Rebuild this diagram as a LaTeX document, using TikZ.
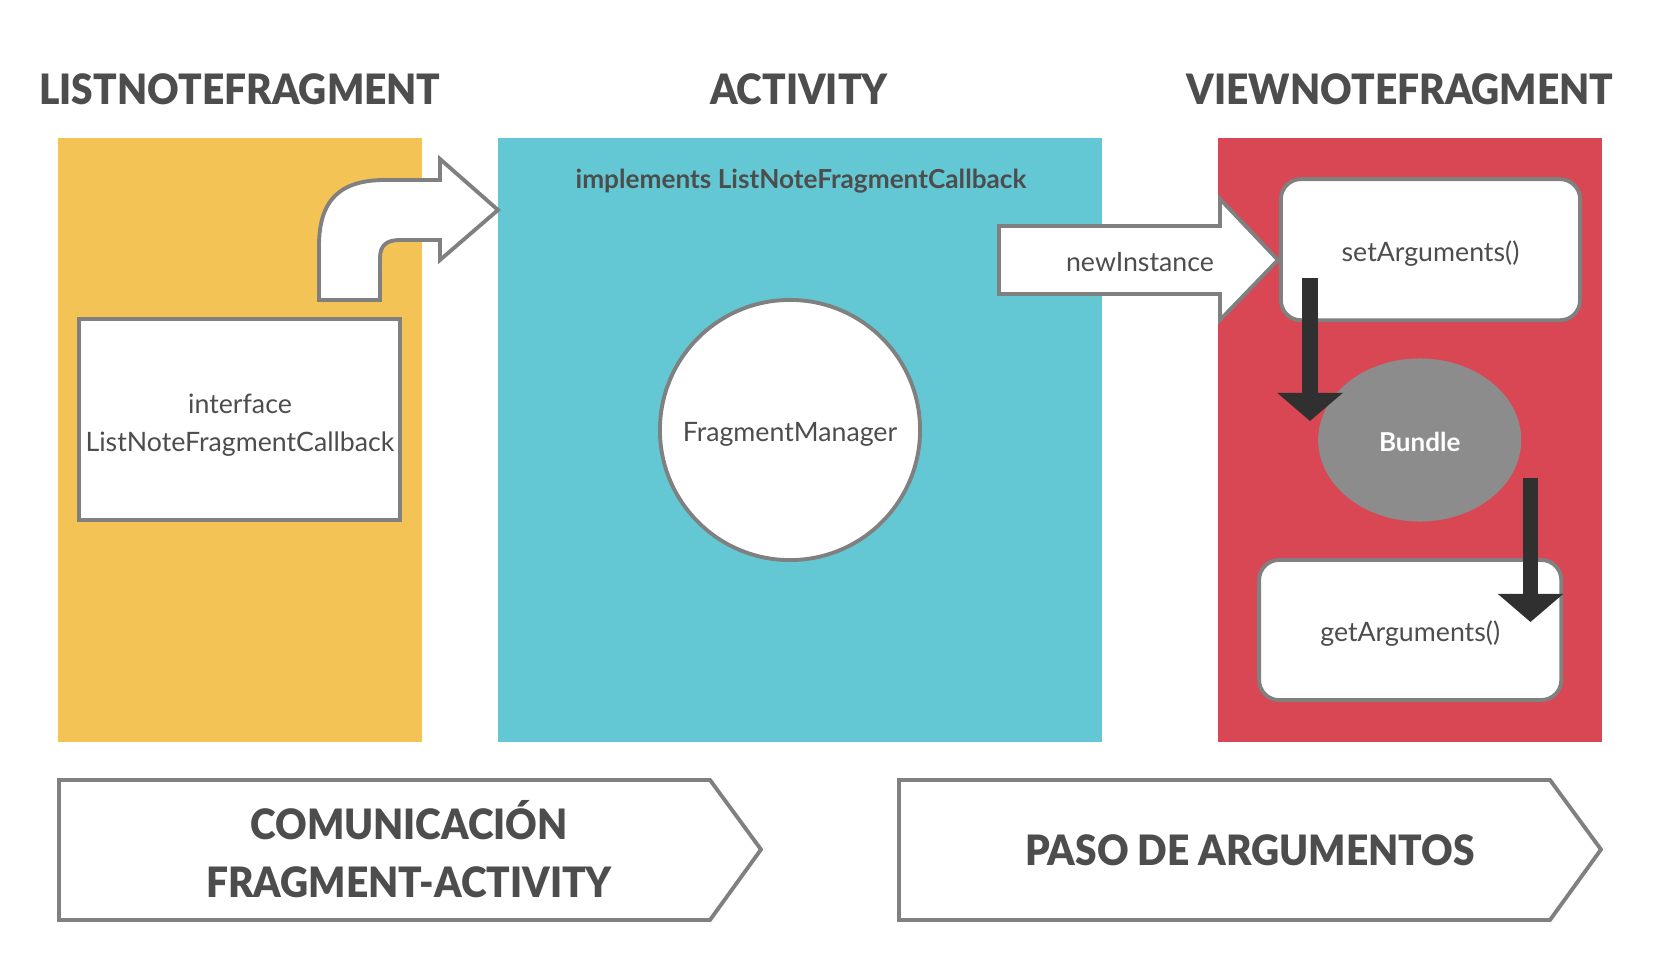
\documentclass[tikz,border=0pt]{standalone}
\usepackage{fontspec}
\setmainfont{Lato}
\newfontfamily\blackfont{Lato Black}[FakeStretch=0.93]
\usetikzlibrary{arrows.meta,shapes.geometric}
\definecolor{txtgray}{HTML}{4D4D4D}
\definecolor{linegray}{HTML}{808080}
\definecolor{lnfyellow}{HTML}{F3C455}
\definecolor{actcyan}{HTML}{63C8D4}
\definecolor{vnfred}{HTML}{D94654}
\definecolor{bundlegray}{HTML}{8C8C8C}
\definecolor{flowdark}{HTML}{303030}
\tikzset{
  headtext/.style={font=\blackfont\fontsize{11.9}{16.5}\selectfont, text=txtgray, inner sep=0pt},
  bodytext/.style={font=\fontsize{7.6}{10.8}\selectfont, text=txtgray, inner sep=0pt},
  boldtext/.style={font=\bfseries\fontsize{7.45}{10.8}\selectfont, text=txtgray, inner sep=0pt},
  lowtext/.style={text height=6.8pt, text depth=0pt},
  whitebox/.style={draw=linegray, line width=1.1pt, fill=white},
  blockarrow/.style={draw=linegray, line width=1.1pt, fill=white, line join=miter},
  flow/.style={draw=flowdark, line width=4.3pt, -{Triangle[width=18.2pt,length=8pt]}},
}
\begin{document}
\begin{tikzpicture}[x=0.01cm,y=-0.01cm]
\useasboundingbox (0,0) rectangle (1653,961);
% the three columns
\fill[lnfyellow] (58,138) rectangle (422,742);
\fill[actcyan] (498,138) rectangle (1102,742);
\fill[vnfred] (1218,138) rectangle (1602,742);
\node[headtext, anchor=base] (lnftitle) at (240,104.5) {LISTNOTEFRAGMENT};
\node[headtext, anchor=base] (acttitle) at (799,104.5) {ACTIVITY};
\node[headtext, anchor=base] (vnftitle) at (1400,104.5) {VIEWNOTEFRAGMENT};
% ListNoteFragment
\node[whitebox, minimum width=3.21cm, minimum height=2.01cm] (iface) at (239.7,419.7) {};
\node[bodytext, align=center] (ifacetext) at (240,425) {interface\\ListNoteFragmentCallback};
\draw[blockarrow] (319,300) -- (319,246) .. controls (319,200) and (340,180) .. (385,180)
  -- (440,180) -- (440,159) -- (498,210) -- (440,260) -- (440,240) -- (400,240)
  .. controls (387,240) and (380,245) .. (380,258) -- (380,300) -- cycle;
% Activity
\node[boldtext, anchor=base] (impl) at (801,189) {implements ListNoteFragmentCallback};
\node[whitebox, bodytext, lowtext, circle, minimum size=2.6cm] (fmanager) at (790,430) {FragmentManager};
\draw[blockarrow] (999,226) -- (1220,226) -- (1220,199) -- (1278,260) -- (1220,320) -- (1220,294) -- (999,294) -- cycle;
\node[bodytext, anchor=base] (newinst) at (1140,272) {newInstance};
% ViewNoteFragment
\node[whitebox, bodytext, lowtext, rounded corners=0.2cm, minimum width=2.99cm, minimum height=1.41cm] (setargs) at (1430.5,249.7) {setArguments()};
\node[bodytext, lowtext, ellipse, fill=bundlegray, minimum width=2.03cm, minimum height=1.63cm, font=\bfseries\fontsize{7.4}{10}\selectfont, text=white] (bundle) at (1419.7,440) {Bundle};
\node[whitebox, bodytext, lowtext, rounded corners=0.2cm, minimum width=3.02cm, minimum height=1.4cm] (getargs) at (1410.2,630) {getArguments()};
\coordinate (setout) at (1310,278);
\coordinate (bundlein) at (1310,421);
\coordinate (bundleout) at (1530.5,478);
\coordinate (getin) at (1530.5,622);
\draw[flow] (setout) -- (bundlein);
\draw[flow] (bundleout) -- (getin);
% bottom banners
\draw[blockarrow] (59,780) -- (710,780) -- (761,849.5) -- (710,920) -- (59,920) -- cycle;
\node[headtext, align=center] (commtext) at (409,849) {COMUNICACIÓN\\FRAGMENT-ACTIVITY};
\draw[blockarrow] (899,780) -- (1550,780) -- (1601,849.5) -- (1550,920) -- (899,920) -- cycle;
\node[headtext] (pasotext) at (1250,850) {PASO DE ARGUMENTOS};
\end{tikzpicture}
\end{document}
